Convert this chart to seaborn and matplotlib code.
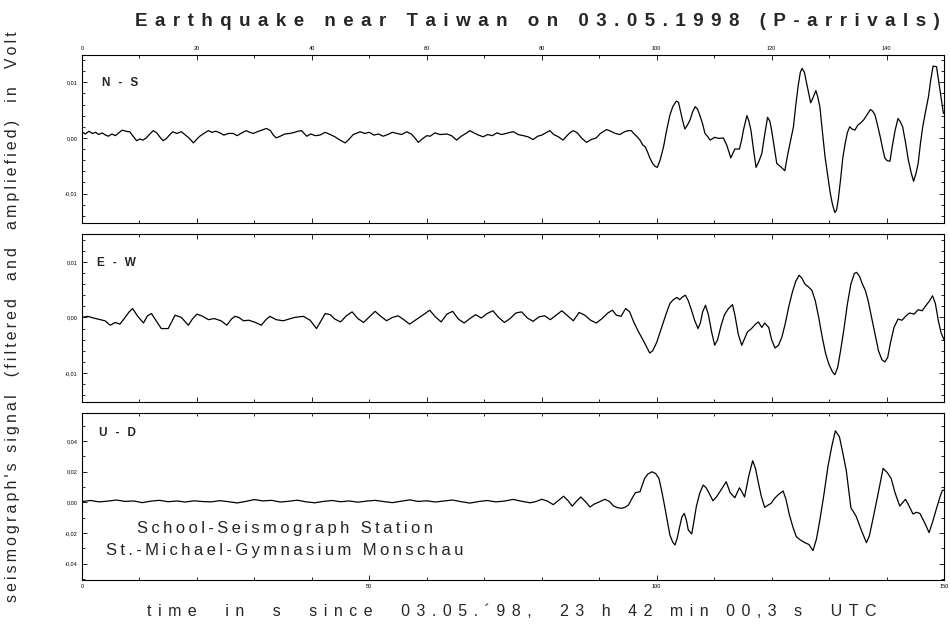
import numpy as np
import pandas as pd
import matplotlib
matplotlib.use("Agg")
import matplotlib.pyplot as plt
import seaborn as sns
from matplotlib.ticker import MultipleLocator, FuncFormatter

# ---------------- data ----------------
ns_t = [0, 0.6, 1.2, 1.8, 2.4, 2.9, 3.5, 4.1, 4.6, 5.2, 5.8, 6.4, 7.0, 7.6, 8.3, 8.9, 9.5, 10.1, 10.6, 11.2,
        11.8, 12.4, 13.0, 13.6, 14.1, 14.7, 15.3, 15.8, 16.5, 17.3, 17.9, 18.6, 19.4, 20.0, 20.5, 21.2, 22.0,
        22.6, 23.3, 24.0, 24.7, 25.5, 26.3, 27.0, 27.8, 28.6, 29.2, 29.8, 30.5, 31.3, 32.1, 32.8, 33.3, 33.8,
        34.5, 35.3, 36.2, 37.0, 37.6, 38.2, 39.1, 39.8, 40.6, 41.4, 42.3, 43.2, 44.0, 44.9, 45.8, 46.5, 47.2,
        48.4, 49.2, 50.0, 50.8, 51.6, 52.4, 53.2, 54.0, 54.8, 55.6, 56.5, 57.3, 58.0, 58.5, 59.2, 60.0, 60.6,
        61.4, 62.3, 63.5, 64.3, 65.2, 66.0, 66.8, 67.5, 68.2, 69.0, 69.8, 70.6, 71.4, 72.2, 73.0, 73.8, 74.5,
        75.1, 75.9, 76.8, 77.6, 78.5, 79.3, 80.0, 80.7, 81.4, 82.1, 82.9, 83.7, 84.4, 85.0, 85.5, 86.2, 87.0,
        87.8, 88.6, 89.5, 90.2, 91.3, 92.0, 92.8, 93.6, 94.4, 95.0, 95.6, 96.0, 96.6, 97.1, 97.6, 98.0, 98.4,
        98.8, 99.3, 99.7, 100.1, 100.6, 101.2, 101.7, 102.3, 102.8, 103.4, 103.8, 104.1, 104.5, 104.9, 105.3,
        105.8, 106.3, 106.7, 107.1, 107.5, 108.0, 108.4, 108.9, 109.3, 110.1, 110.8, 111.6, 112.2, 112.9,
        113.6, 114.4, 114.8, 115.1, 115.7, 116.0, 116.4, 116.9, 117.3, 117.8, 118.3, 118.8, 119.3, 119.7,
        120.0, 120.5, 120.9, 121.6, 122.3, 122.8, 123.3, 123.8, 124.2, 124.6, 125.0, 125.3, 125.7, 126.1,
        126.5, 126.8, 127.2, 127.7, 128.0, 128.4, 128.8, 129.3, 129.8, 130.2, 130.6, 131.0, 131.3, 131.6,
        132.0, 132.4, 132.8, 133.2, 133.6, 134.0, 134.5, 135.0, 135.4, 136.0, 136.5, 137.2, 137.6, 138.0,
        138.5, 138.9, 139.3, 139.7, 140.1, 140.6, 141.0, 141.5, 142.0, 142.4, 142.8, 143.3, 143.8, 144.3,
        144.7, 145.1, 145.5, 145.9, 146.3, 146.8, 147.3, 147.7, 148.1, 148.7, 149.3, 149.9]
ns_v = [0.0011, 0.0007, 0.0012, 0.0008, 0.0010, 0.0006, 0.0009, 0.0005, 0.0003, 0.0007, 0.0004, 0.0009,
        0.0014, 0.0012, 0.0011, 0.0003, -0.0005, -0.0002, -0.0004, 0.0000, 0.0007, 0.0013, 0.0009, 0.0001,
        -0.0005, -0.0001, 0.0006, 0.0011, 0.0008, 0.0011, 0.0006, 0.0000, -0.0009, -0.0002, 0.0003, 0.0008,
        0.0013, 0.0010, 0.0012, 0.0009, 0.0005, 0.0008, 0.0008, 0.0004, 0.0009, 0.0013, 0.0010, 0.0008,
        0.0011, 0.0014, 0.0017, 0.0013, 0.0005, 0.0000, 0.0003, 0.0007, 0.0008, 0.0010, 0.0012, 0.0013,
        0.0003, 0.0007, 0.0004, 0.0005, 0.0010, 0.0006, 0.0002, -0.0004, -0.0009, -0.0002, 0.0006, 0.0011,
        0.0008, 0.0010, 0.0005, 0.0007, 0.0003, 0.0006, 0.0010, 0.0008, 0.0006, 0.0011, 0.0007, -0.0001,
        -0.0008, -0.0002, 0.0004, 0.0003, 0.0009, 0.0006, 0.0007, 0.0004, -0.0004, 0.0003, 0.0008, 0.0013,
        0.0009, 0.0005, 0.0002, 0.0006, 0.0004, 0.0009, 0.0006, 0.0008, 0.0010, 0.0011, 0.0006, 0.0004,
        0.0002, -0.0003, 0.0003, 0.0005, 0.0009, 0.0013, 0.0006, 0.0002, -0.0004, 0.0004, 0.0010, 0.0013,
        0.0009, -0.0001, -0.0008, -0.0003, 0.0000, 0.0008, 0.0015, 0.0012, 0.0008, 0.0006, 0.0011, 0.0013,
        0.0013, 0.0008, 0.0002, -0.0004, -0.0013, -0.0016, -0.0025, -0.0036, -0.0046, -0.0051, -0.0053,
        -0.0040, -0.0016, 0.0012, 0.0041, 0.0056, 0.0066, 0.0064, 0.0050, 0.0032, 0.0016, 0.0022, 0.0032,
        0.0048, 0.0056, 0.0052, 0.0041, 0.0025, 0.0008, 0.0002, -0.0004, 0.0001, -0.0001, 0.0000, -0.0013,
        -0.0036, -0.0020, -0.0020, -0.0003, 0.0014, 0.0040, 0.0032, 0.0014, -0.0025, -0.0053, -0.0042,
        -0.0028, 0.0006, 0.0037, 0.0030, 0.0014, -0.0020, -0.0046, -0.0052, -0.0059, -0.0030, -0.0005,
        0.0020, 0.0058, 0.0092, 0.0118, 0.0125, 0.0118, 0.0098, 0.0078, 0.0063, 0.0072, 0.0085, 0.0075,
        0.0056, 0.0015, -0.0034, -0.0070, -0.0099, -0.0120, -0.0134, -0.0130, -0.0111, -0.0075, -0.0035,
        -0.0010, 0.0010, 0.0020, 0.0016, 0.0014, 0.0023, 0.0026, 0.0032, 0.0040, 0.0051, 0.0048, 0.0041,
        0.0020, 0.0002, -0.0018, -0.0036, -0.0041, -0.0042, -0.0015, 0.0014, 0.0035, 0.0029, 0.0020,
        -0.0008, -0.0040, -0.0063, -0.0078, -0.0065, -0.0046, -0.0010, 0.0020, 0.0048, 0.0074, 0.0105,
        0.0129, 0.0128, 0.0086, 0.0044]

ew_t = [0, 1.0, 2.0, 3.2, 4.0, 4.9, 5.8, 6.6, 7.5, 8.2, 8.8, 9.7, 10.7, 11.4, 12.1, 12.9, 13.8, 15.0, 15.6,
        16.2, 17.3, 18.5, 19.2, 20.0, 21.0, 22.0, 23.0, 24.2, 25.2, 26.0, 26.6, 27.3, 28.1, 29.0, 30.2, 31.2,
        32.0, 32.7, 33.8, 35.0, 36.0, 37.0, 38.5, 39.7, 40.8, 41.6, 42.3, 43.2, 44.0, 45.0, 46.0, 47.0, 48.0,
        49.0, 50.0, 51.0, 52.0, 53.0, 54.0, 55.0, 56.0, 57.0, 58.0, 59.0, 60.5, 61.5, 62.5, 63.5, 64.5, 65.5,
        66.5, 67.5, 68.5, 69.5, 70.5, 71.5, 72.5, 73.5, 74.5, 75.5, 76.5, 77.5, 78.5, 79.5, 80.5, 81.5, 82.5,
        83.5, 84.5, 85.5, 86.5, 87.5, 88.5, 89.5, 90.5, 91.5, 92.3, 93.0, 93.8, 94.6, 95.3, 96.0, 96.8, 97.6,
        98.3, 98.8, 99.3, 100.0, 100.8, 101.6, 102.3, 102.8, 103.5, 104.0, 104.5, 105.0, 105.5, 106.0, 106.6,
        107.2, 107.6, 108.0, 108.5, 109.0, 109.6, 110.1, 110.6, 111.2, 111.8, 112.5, 113.2, 113.6, 114.2,
        114.8, 115.3, 115.8, 116.5, 117.2, 117.7, 118.3, 118.8, 119.5, 120.0, 120.6, 121.2, 121.8, 122.4,
        123.0, 123.6, 124.2, 124.8, 125.3, 125.8, 126.4, 127.0, 127.6, 128.2, 128.8, 129.4, 130.0, 130.6,
        131.0, 131.5, 132.0, 132.6, 133.2, 133.8, 134.4, 134.8, 135.3, 135.8, 136.3, 136.8, 137.4, 138.0,
        138.6, 139.2, 139.7, 140.2, 140.7, 141.3, 142.0, 142.7, 143.4, 144.0, 144.8, 145.5, 146.2, 146.9,
        147.5, 148.0, 148.5, 149.0, 149.5, 150.0]
ew_v = [0.0000, 0.0002, -0.0001, -0.0004, -0.0006, -0.0014, -0.0009, -0.0012, 0.0000, 0.0010, 0.0016,
        0.0002, -0.0010, 0.0003, 0.0007, -0.0006, -0.0020, -0.0020, -0.0008, 0.0004, 0.0000, -0.0014,
        -0.0003, 0.0006, 0.0002, -0.0004, -0.0002, -0.0006, -0.0014, -0.0003, 0.0002, 0.0000, -0.0006,
        -0.0005, -0.0009, -0.0014, -0.0004, 0.0002, -0.0004, -0.0006, -0.0003, 0.0000, 0.0002, -0.0005,
        -0.0020, -0.0006, 0.0007, 0.0005, -0.0003, -0.0008, 0.0003, 0.0010, -0.0002, -0.0009, 0.0001,
        0.0011, 0.0002, -0.0006, 0.0000, 0.0003, -0.0004, -0.0012, -0.0005, 0.0002, 0.0013, 0.0001,
        -0.0008, 0.0006, 0.0011, -0.0003, -0.0010, -0.0002, 0.0005, -0.0001, 0.0007, 0.0012, 0.0000,
        -0.0009, -0.0002, 0.0008, 0.0010, -0.0001, -0.0007, 0.0001, 0.0003, -0.0004, 0.0004, 0.0012,
        0.0003, -0.0006, 0.0009, 0.0004, -0.0005, -0.0010, -0.0002, 0.0008, 0.0013, 0.0004, 0.0002,
        0.0016, 0.0010, -0.0008, -0.0025, -0.0040, -0.0054, -0.0064, -0.0060, -0.0045, -0.0020, 0.0005,
        0.0025, 0.0031, 0.0036, 0.0032, 0.0037, 0.0040, 0.0030, 0.0015, -0.0005, -0.0020, -0.0010, 0.0010,
        0.0022, 0.0005, -0.0028, -0.0050, -0.0040, -0.0015, 0.0005, 0.0016, 0.0023, 0.0005, -0.0030,
        -0.0050, -0.0038, -0.0026, -0.0020, -0.0012, -0.0008, -0.0018, -0.0010, -0.0018, -0.0040, -0.0055,
        -0.0050, -0.0035, -0.0010, 0.0020, 0.0045, 0.0065, 0.0076, 0.0070, 0.0060, 0.0055, 0.0049, 0.0030,
        0.0000, -0.0035, -0.0065, -0.0085, -0.0098, -0.0103, -0.0090, -0.0060, -0.0020, 0.0025, 0.0060,
        0.0079, 0.0081, 0.0074, 0.0060, 0.0049, 0.0030, 0.0000, -0.0030, -0.0060, -0.0076, -0.0080,
        -0.0072, -0.0045, -0.0018, -0.0003, -0.0005, 0.0003, 0.0008, 0.0006, 0.0014, 0.0012, 0.0022,
        0.0030, 0.0039, 0.0025, -0.0005, -0.0028, -0.0040]

ud_t = [0, 1.5, 3.0, 4.5, 6.0, 7.5, 9.0, 10.5, 12.0, 13.5, 15.0, 16.5, 18.0, 19.5, 21.0, 22.5, 24.0, 25.5,
        27.0, 28.5, 30.0, 31.5, 33.0, 34.5, 36.0, 37.5, 39.0, 40.5, 42.0, 43.5, 45.0, 46.5, 48.0, 49.5,
        51.0, 52.5, 54.0, 55.5, 57.0, 58.5, 60.0, 61.5, 63.0, 64.5, 66.0, 67.5, 69.0, 70.5, 72.0, 73.5,
        75.0, 76.5, 78.0, 79.0, 80.0, 81.0, 82.0, 83.0, 83.8, 84.6, 85.3, 86.0, 86.8, 87.6, 88.4, 89.2,
        90.1, 91.0, 91.8, 92.5, 93.2, 93.9, 94.5, 95.1, 95.7, 96.3, 97.1, 97.9, 98.5, 99.2, 99.8, 100.4,
        100.9, 101.4, 101.9, 102.3, 102.8, 103.2, 103.6, 104.0, 104.4, 104.8, 105.2, 105.5, 106.1, 106.5,
        106.9, 107.5, 108.1, 108.6, 109.0, 109.8, 110.4, 111.0, 111.6, 112.1, 112.8, 113.6, 114.4, 114.8,
        115.3, 116.0, 116.7, 117.2, 117.6, 118.2, 118.8, 119.3, 119.9, 120.5, 121.1, 122.0, 122.5, 123.1,
        123.7, 124.3, 125.0, 125.8, 126.5, 127.2, 127.8, 128.4, 129.1, 129.8, 130.5, 131.1, 131.8, 132.4,
        133.0, 133.8, 134.7, 135.6, 136.5, 137.0, 137.6, 138.5, 139.4, 140.1, 140.8, 141.5, 142.3, 143.3,
        144.0, 144.6, 145.2, 145.8, 146.6, 147.4, 148.0, 148.7, 149.3, 149.7, 150.0]
ud_v = [0.0005, 0.0012, 0.0003, 0.0008, 0.0015, 0.0006, 0.0009, -0.0002, 0.0008, 0.0013, 0.0004, 0.0009,
        0.0002, 0.0010, 0.0005, 0.0003, 0.0011, 0.0004, -0.0004, 0.0006, 0.0018, 0.0009, 0.0013, 0.0002,
        0.0007, 0.0014, 0.0003, -0.0003, 0.0006, 0.0012, 0.0004, 0.0009, 0.0001, 0.0008, 0.0013, 0.0005,
        -0.0002, 0.0007, 0.0016, 0.0006, 0.0010, 0.0002, 0.0009, 0.0015, 0.0004, -0.0005, 0.0005, 0.0012,
        0.0003, 0.0008, 0.0019, 0.0007, -0.0003, 0.0005, 0.0020, 0.0008, -0.0015, 0.0015, 0.0040, 0.0010,
        -0.0025, 0.0005, 0.0035, 0.0005, -0.0030, -0.0010, 0.0004, 0.0020, 0.0005, -0.0024, -0.0035,
        -0.0039, -0.0032, -0.0017, 0.0025, 0.0063, 0.0069, 0.0156, 0.0185, 0.0199, 0.0188, 0.0156, 0.0070,
        -0.0028, -0.0130, -0.0213, -0.0260, -0.0278, -0.0230, -0.0159, -0.0095, -0.0072, -0.0120, -0.0180,
        -0.0206, -0.0120, -0.0028, 0.0060, 0.0113, 0.0095, 0.0069, 0.0010, 0.0035, 0.0069, 0.0105, 0.0134,
        0.0062, 0.0030, 0.0095, 0.0070, 0.0035, 0.0167, 0.0271, 0.0220, 0.0145, 0.0040, -0.0033, -0.0020,
        -0.0007, 0.0025, 0.0048, 0.0074, 0.0020, -0.0082, -0.0160, -0.0224, -0.0245, -0.0263, -0.0275,
        -0.0315, -0.0240, -0.0115, 0.0050, 0.0232, 0.0370, 0.0466, 0.0427, 0.0320, 0.0206, -0.0035,
        -0.0090, -0.0180, -0.0263, -0.0220, -0.0115, 0.0050, 0.0221, 0.0195, 0.0156, 0.0060, -0.0024,
        0.0020, -0.0030, -0.0076, -0.0065, -0.0072, -0.0130, -0.0197, -0.0130, -0.0039, 0.0035, 0.0076,
        0.0080]

channels = ["N - S", "E - W", "U - D"]
ylims = [(-0.0153, 0.0149), (-0.0152, 0.0150), (-0.0506, 0.0582)]

title_text = "Earthquake near Taiwan on 03.05.1998 (P-arrivals)"
xlabel_text = "time  in  s  since  03.05.\u00b498,  23 h 42 min 00,3 s  UTC"
ylabel_text = "seismograph's signal  (filtered  and  ampliefied)  in  Volt"
station_lines = ["School-Seismograph Station", "St.-Michael-Gymnasium Monschau"]

# ---------------- style ----------------
sns.set_style("ticks")
plt.rcParams['font.family'] = ['Liberation Sans', 'DejaVu Sans']
plt.rcParams['axes.linewidth'] = 0.8


def track(s, sep="\u2009"):
    """Letter-spaced rendering of a string."""
    return sep.join(s)


def comma_fmt(v, pos):
    if abs(v) < 1e-9:
        v = 0.0
    return f"{v:.2f}".replace(".", ",")


fig = plt.figure(figsize=(9.5, 6.31), dpi=100)
L, W = 82 / 950, 862 / 950
rects = [(L, 1 - 223 / 631, W, 168 / 631),
         (L, 1 - 402 / 631, W, 168 / 631),
         (L, 1 - 580 / 631, W, 167 / 631)]
axes = [fig.add_axes(r) for r in rects]

series = [(ns_t, ns_v), (ew_t, ew_v), (ud_t, ud_v)]
label_pos = [(0.023, 0.833), (0.017, 0.829), (0.020, 0.882)]

for i, (ax, (t, v)) in enumerate(zip(axes, series)):
    df = pd.DataFrame({"t": t, "v": v})
    sns.lineplot(data=df, x="t", y="v", ax=ax, color="black", linewidth=0.9,
                 estimator=None, sort=False)
    ax.set_xlim(0, 150)
    ax.set_ylim(*ylims[i])
    ax.set_xlabel("")
    ax.set_ylabel("")
    for sp in ax.spines.values():
        sp.set_visible(True)
        sp.set_color("black")
        sp.set_linewidth(0.8)
    ax.tick_params(which="both", direction="in", top=True, bottom=True, left=True, right=True,
                   labelsize=4, colors="black", pad=3, width=0.6)
    ax.tick_params(which="major", length=3.5)
    ax.tick_params(which="minor", length=2.2)
    ax.yaxis.set_major_formatter(FuncFormatter(comma_fmt))
    if i < 2:
        ax.yaxis.set_major_locator(MultipleLocator(0.01))
        ax.yaxis.set_minor_locator(MultipleLocator(0.002))
        ax.xaxis.set_major_locator(MultipleLocator(20))
        ax.xaxis.set_minor_locator(MultipleLocator(10))
    else:
        ax.yaxis.set_major_locator(MultipleLocator(0.02))
        ax.yaxis.set_minor_locator(MultipleLocator(0.01))
        ax.xaxis.set_major_locator(MultipleLocator(50))
        ax.xaxis.set_minor_locator(MultipleLocator(10))
    ax.tick_params(axis="y", labelright=False, labelleft=True)
    if i == 0:
        ax.tick_params(axis="x", labeltop=True, labelbottom=False)
    elif i == 1:
        ax.tick_params(axis="x", labeltop=False, labelbottom=False)
    else:
        ax.tick_params(axis="x", labeltop=False, labelbottom=True)
    ax.text(label_pos[i][0], label_pos[i][1], track(channels[i]), transform=ax.transAxes,
            fontsize=8.5, fontweight="bold", ha="left", va="center")

fig.text(537 / 950, 1 - 21 / 631, track(title_text, "\u2009\u2009"), ha="center", va="center",
         fontsize=13.5, fontweight="bold")
fig.text(512 / 950, 1 - 612 / 631, track(xlabel_text, "\u2009\u2009"), ha="center", va="center",
         fontsize=11.5)
fig.text(13 / 950, 1 - 317 / 631, track(ylabel_text), ha="center", va="center",
         rotation=90, fontsize=11.4)
fig.text(285 / 950, 1 - 528 / 631, track(station_lines[0]), ha="center", va="center", fontsize=12)
fig.text(285 / 950, 1 - 550 / 631, track(station_lines[1]), ha="center", va="center", fontsize=12)

fig.savefig("out.png", dpi=100)
